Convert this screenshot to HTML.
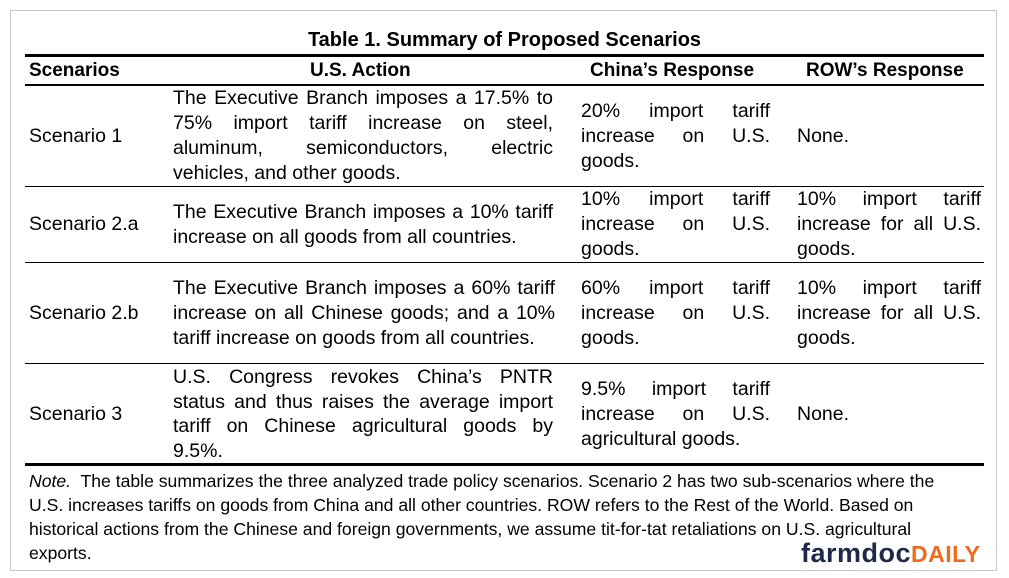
<!DOCTYPE html>
<html><head><meta charset="utf-8"><style>
body{margin:0;width:1009px;height:578px;background:#fff;font-family:"Liberation Sans",Arial,sans-serif;color:#000;position:relative;overflow:hidden}
.frame{position:absolute;left:10px;top:10px;width:987px;height:561px;border:1px solid #c8c8c8;box-sizing:border-box}
.title{position:absolute;left:0;width:1009px;top:29px;text-align:center;font-weight:bold;font-size:20px}
.hl{position:absolute;left:25px;width:959px;background:#000}
.hd{position:absolute;top:60px;font-weight:bold;font-size:19px}
.cell{position:absolute;display:flex;align-items:center;font-size:19.5px;line-height:25px}
.cell div{width:100%}
.j{text-align:justify}
.note{position:absolute;left:29px;top:469px;width:930px;font-size:17.6px;line-height:24px}
.logo{position:absolute;left:801px;top:538px;font-size:27px;font-weight:bold;color:#1f2a4a;letter-spacing:0.5px}
.logo span{color:#f26a1b;font-size:23px}
</style></head><body>
<div class="frame"></div>
<div class="title">Table 1. Summary of Proposed Scenarios</div>
<div class="hl" style="top:54px;height:3px"></div>
<div class="hd" style="left:29px">Scenarios</div>
<div class="hd" style="left:310px">U.S. Action</div>
<div class="hd" style="left:590px">China’s Response</div>
<div class="hd" style="left:806px">ROW’s Response</div>
<div class="hl" style="top:84px;height:2px"></div>
<div class="hl" style="top:186px;height:1px"></div>
<div class="hl" style="top:262px;height:1px"></div>
<div class="hl" style="top:363px;height:1px"></div>
<div class="hl" style="top:463px;height:3px"></div>

<div class="cell" style="left:29px;top:86px;width:130px;height:100px"><div>Scenario 1</div></div>
<div class="cell" style="left:173px;top:86px;width:380px;height:100px"><div class="j">The Executive Branch imposes a 17.5% to 75% import tariff increase on steel, aluminum, semiconductors, electric vehicles, and other goods.</div></div>
<div class="cell" style="left:581px;top:86px;width:189px;height:100px"><div class="j">20% import tariff increase on U.S. goods.</div></div>
<div class="cell" style="left:797px;top:86px;width:184px;height:100px"><div>None.</div></div>

<div class="cell" style="left:29px;top:187px;width:130px;height:75px"><div>Scenario 2.a</div></div>
<div class="cell" style="left:173px;top:187px;width:380px;height:75px"><div class="j">The Executive Branch imposes a 10% tariff increase on all goods from all countries.</div></div>
<div class="cell" style="left:581px;top:187px;width:189px;height:75px"><div class="j">10% import tariff increase on U.S. goods.</div></div>
<div class="cell" style="left:797px;top:187px;width:184px;height:75px"><div class="j">10% import tariff increase for all U.S. goods.</div></div>

<div class="cell" style="left:29px;top:263px;width:130px;height:100px"><div>Scenario 2.b</div></div>
<div class="cell" style="left:173px;top:263px;width:382px;height:100px"><div class="j">The Executive Branch imposes a 60% tariff increase on all Chinese goods; and a 10% tariff increase on goods from all countries.</div></div>
<div class="cell" style="left:581px;top:263px;width:189px;height:100px"><div class="j">60% import tariff increase on U.S. goods.</div></div>
<div class="cell" style="left:797px;top:263px;width:184px;height:100px"><div class="j">10% import tariff increase for all U.S. goods.</div></div>

<div class="cell" style="left:29px;top:364px;width:130px;height:100px;line-height:24.5px"><div>Scenario 3</div></div>
<div class="cell" style="left:173px;top:364px;width:380px;height:100px;line-height:24.5px"><div class="j">U.S. Congress revokes China’s PNTR status and thus raises the average import tariff on Chinese agricultural goods by 9.5%.</div></div>
<div class="cell" style="left:581px;top:364px;width:189px;height:100px"><div class="j">9.5% import tariff increase on U.S. agricultural goods.</div></div>
<div class="cell" style="left:797px;top:364px;width:184px;height:100px"><div>None.</div></div>

<div class="note"><i>Note.</i>&nbsp; The table summarizes the three analyzed trade policy scenarios. Scenario 2 has two sub-scenarios where the U.S. increases tariffs on goods from China and all other countries. ROW refers to the Rest of the World. Based on historical actions from the Chinese and foreign governments, we assume tit-for-tat retaliations on U.S. agricultural exports.</div>
<div class="logo">farmdoc<span>DAILY</span></div>
</body></html>
